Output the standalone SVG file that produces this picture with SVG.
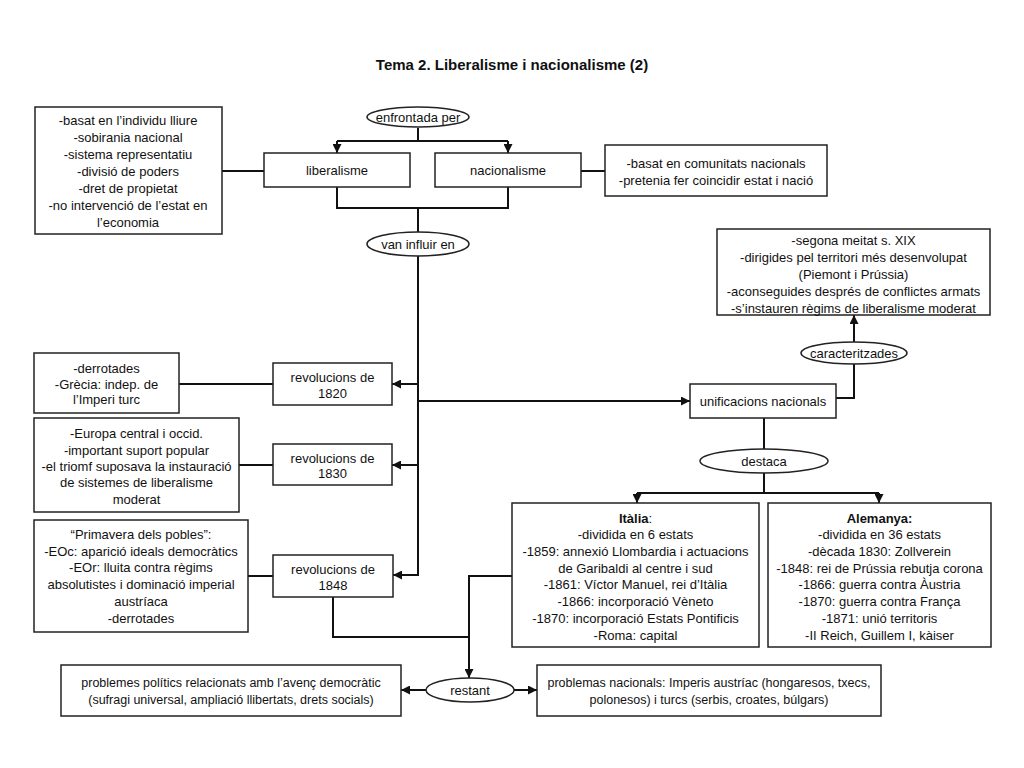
<svg xmlns="http://www.w3.org/2000/svg" width="1024" height="768" viewBox="0 0 1024 768">
<style>
.bx{fill:#fff;stroke:#222;stroke-width:1.5}
.el{fill:#fff;stroke:#222;stroke-width:1.5}
.t{font-family:"Liberation Sans",Arial,sans-serif;font-size:13px;fill:#111;text-anchor:middle}
.ts{font-size:12.5px}
.b{font-weight:bold}
.ln{fill:none;stroke:#111;stroke-width:2}
.ar{fill:none;stroke:#111;stroke-width:2;marker-end:url(#ah)}
</style>
<defs>
<marker id="ah" viewBox="0 0 10 10" refX="10" refY="5" markerWidth="9" markerHeight="9" markerUnits="userSpaceOnUse" orient="auto">
<path d="M0,0 L10,5 L0,10 z" fill="#111"/>
</marker>
</defs>
<rect width="1024" height="768" fill="#fff"/>
<text class="t b" x="512" y="70" style="font-size:15px">Tema 2. Liberalisme i nacionalisme (2)</text>

<g id="connectors">
<path class="ln" d="M418,128 V141 M337,141 H508"/>
<path class="ar" d="M337,141 V153"/>
<path class="ar" d="M508,141 V153"/>
<path class="ln" d="M222,171 H264"/>
<path class="ln" d="M581,171 H605"/>
<path class="ln" d="M337,187 V208 H508 V187 M418,208 V232"/>
<path class="ar" d="M418,256 V575 H393"/>
<path class="ar" d="M418,384 H392"/>
<path class="ar" d="M418,465 H392"/>
<path class="ar" d="M418,401 H690"/>
<path class="ln" d="M179,384 H273"/>
<path class="ln" d="M239,465 H273"/>
<path class="ln" d="M248,576 H273"/>
<path class="ln" d="M836,398 H854 V364"/>
<path class="ar" d="M854,342 V315"/>
<path class="ln" d="M764,418 V449"/>
<path class="ln" d="M764,473 V493 M637,493 H879"/>
<path class="ar" d="M637,493 V503"/>
<path class="ar" d="M879,493 V503"/>
<path class="ar" d="M512,576 H469 V678"/>
<path class="ln" d="M333,597 V637 H469"/>
<path class="ar" d="M426,690 H401"/>
<path class="ar" d="M514,690 H537"/>
</g>

<g id="lib-desc">
<rect class="bx" x="35" y="107" width="187" height="127"/>
<text class="t" x="128"><tspan x="128" y="125">-basat en l’individu lliure</tspan><tspan x="128" y="142">-sobirania nacional</tspan><tspan x="128" y="159">-sistema representatiu</tspan><tspan x="128" y="176">-divisió de poders</tspan><tspan x="128" y="193">-dret de propietat</tspan><tspan x="128" y="210">-no intervenció de l’estat en</tspan><tspan x="128" y="227">l’economia</tspan></text>
</g>
<g id="enfrontada">
<ellipse class="el" cx="418" cy="117" rx="51" ry="10"/>
<text class="t" x="418" y="122">enfrontada per</text>
</g>
<g id="liberalisme">
<rect class="bx" x="264" y="153" width="146" height="34"/>
<text class="t" x="337" y="175">liberalisme</text>
</g>
<g id="nacionalisme">
<rect class="bx" x="435" y="153" width="146" height="34"/>
<text class="t" x="508" y="175">nacionalisme</text>
</g>
<g id="nac-desc">
<rect class="bx" x="605" y="145" width="222" height="51"/>
<text class="t"><tspan x="716" y="168">-basat en comunitats nacionals</tspan><tspan x="716" y="185">-pretenia fer coincidir estat i nació</tspan></text>
</g>
<g id="influir">
<ellipse class="el" cx="418" cy="244" rx="51" ry="12"/>
<text class="t" x="418" y="249">van influir en</text>
</g>
<g id="unif-desc">
<rect class="bx" x="717" y="229" width="273" height="86"/>
<text class="t"><tspan x="853.5" y="245">-segona meitat s. XIX</tspan><tspan x="853.5" y="262">-dirigides pel territori més desenvolupat</tspan><tspan x="853.5" y="279">(Piemont i Prússia)</tspan><tspan x="853.5" y="296">-aconseguides després de conflictes armats</tspan><tspan x="853.5" y="313">-s’instauren règims de liberalisme moderat</tspan></text>
</g>
<g id="caracteritzades">
<ellipse class="el" cx="854" cy="353" rx="53" ry="11"/>
<text class="t" x="854" y="358">caracteritzades</text>
</g>
<g id="unificacions">
<rect class="bx" x="690" y="384" width="146" height="34"/>
<text class="t" x="763" y="406">unificacions nacionals</text>
</g>
<g id="destaca">
<ellipse class="el" cx="764" cy="461" rx="64" ry="12"/>
<text class="t" x="764" y="466">destaca</text>
</g>
<g id="d1820">
<rect class="bx" x="34" y="353" width="145" height="60"/>
<text class="t"><tspan x="106.5" y="373">-derrotades</tspan><tspan x="106.5" y="389">-Grècia: indep. de</tspan><tspan x="106.5" y="404">l’Imperi turc</tspan></text>
</g>
<g id="r1820">
<rect class="bx" x="273" y="363" width="119" height="42"/>
<text class="t"><tspan x="332.5" y="382">revolucions de</tspan><tspan x="332.5" y="398">1820</tspan></text>
</g>
<g id="d1830">
<rect class="bx" x="34" y="418" width="205" height="94"/>
<text class="t"><tspan x="136.5" y="438">-Europa central i occid.</tspan><tspan x="136.5" y="455">-important suport popular</tspan><tspan x="136.5" y="471">-el triomf suposava la instauració</tspan><tspan x="136.5" y="487">de sistemes de liberalisme</tspan><tspan x="136.5" y="504">moderat</tspan></text>
</g>
<g id="r1830">
<rect class="bx" x="273" y="444" width="119" height="41"/>
<text class="t"><tspan x="332.5" y="463">revolucions de</tspan><tspan x="332.5" y="478">1830</tspan></text>
</g>
<g id="d1848">
<rect class="bx" x="34" y="520" width="214" height="112"/>
<text class="t"><tspan x="141" y="539">“Primavera dels pobles”:</tspan><tspan x="141" y="556">-EOc: aparició ideals democràtics</tspan><tspan x="141" y="572">-EOr: lluita contra règims</tspan><tspan x="141" y="589">absolutistes i dominació imperial</tspan><tspan x="141" y="606">austríaca</tspan><tspan x="141" y="623">-derrotades</tspan></text>
</g>
<g id="r1848">
<rect class="bx" x="273" y="555" width="120" height="42"/>
<text class="t"><tspan x="333" y="574">revolucions de</tspan><tspan x="333" y="590">1848</tspan></text>
</g>
<g id="italia">
<rect class="bx" x="512" y="503" width="247" height="144"/>
<text class="t"><tspan x="635.5" y="523"><tspan class="b">Itàlia</tspan>:</tspan><tspan x="635.5" y="539">-dividida en 6 estats</tspan><tspan x="635.5" y="556">-1859: annexió Llombardia i actuacions</tspan><tspan x="635.5" y="573">de Garibaldi al centre i sud</tspan><tspan x="635.5" y="589">-1861: Víctor Manuel, rei d’Itàlia</tspan><tspan x="635.5" y="606">-1866: incorporació Vèneto</tspan><tspan x="635.5" y="623">-1870: incorporació Estats Pontificis</tspan><tspan x="635.5" y="640">-Roma: capital</tspan></text>
</g>
<g id="alemanya">
<rect class="bx" x="768" y="503" width="223" height="144"/>
<text class="t"><tspan x="879.5" y="523" class="b">Alemanya:</tspan><tspan x="879.5" y="539">-dividida en 36 estats</tspan><tspan x="879.5" y="556">-dècada 1830: Zollverein</tspan><tspan x="879.5" y="573">-1848: rei de Prússia rebutja corona</tspan><tspan x="879.5" y="589">-1866: guerra contra Àustria</tspan><tspan x="879.5" y="606">-1870: guerra contra França</tspan><tspan x="879.5" y="623">-1871: unió territoris</tspan><tspan x="879.5" y="640">-II Reich, Guillem I, kàiser</tspan></text>
</g>
<g id="restant">
<ellipse class="el" cx="470" cy="690" rx="44" ry="12"/>
<text class="t" x="470" y="695">restant</text>
</g>
<g id="prob-pol">
<rect class="bx" x="61" y="665" width="340" height="51"/>
<text class="t ts"><tspan x="231" y="687">problemes polítics relacionats amb l’avenç democràtic</tspan><tspan x="231" y="704">(sufragi universal, ampliació llibertats, drets socials)</tspan></text>
</g>
<g id="prob-nac">
<rect class="bx" x="537" y="665" width="344" height="51"/>
<text class="t ts"><tspan x="709" y="687">problemas nacionals: Imperis austríac (hongaresos, txecs,</tspan><tspan x="709" y="704">polonesos) i turcs (serbis, croates, búlgars)</tspan></text>
</g>
</svg>
